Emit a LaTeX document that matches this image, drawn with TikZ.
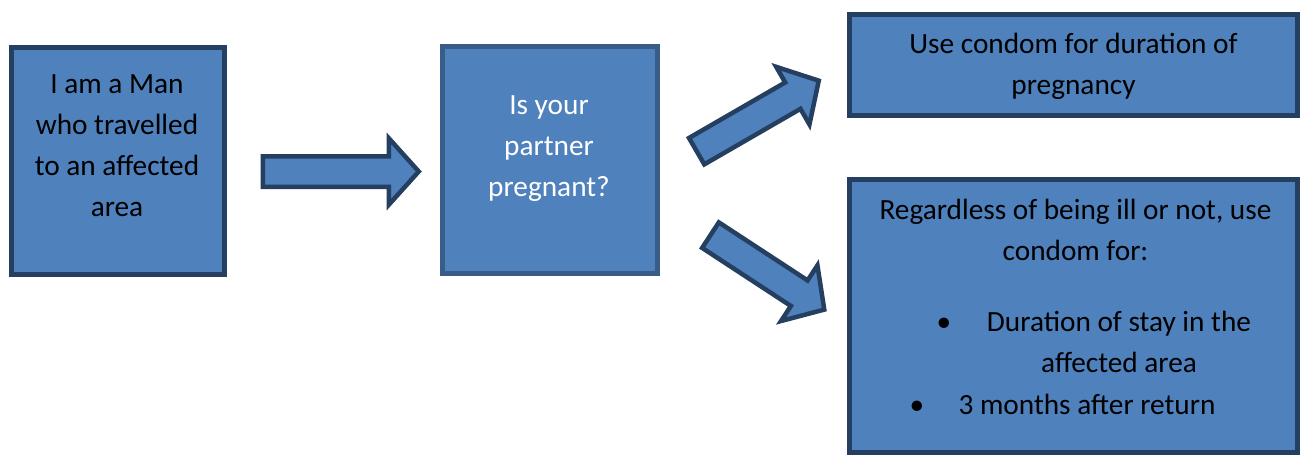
\documentclass[tikz,border=0pt]{standalone}
\usepackage{fontspec}
\setmainfont{Carlito}
\usetikzlibrary{shapes.arrows}
\definecolor{boxfill}{HTML}{4F81BD}
\definecolor{darkedge}{HTML}{243F60}
\definecolor{lightedge}{HTML}{385D8A}
\tikzset{
  box/.style={draw=darkedge, fill=boxfill, line width=5pt, rectangle, inner sep=0pt},
  lightbox/.style={box, draw=lightedge},
  txt/.style={inner sep=0pt, anchor=base, align=center, font=\fontsize{29.3}{41}\selectfont},
  blockarrow/.style={single arrow, draw=darkedge, fill=boxfill, line width=4.5pt,
    inner xsep=0pt, inner ysep=13pt, minimum width=62pt, single arrow head extend=18pt,
    single arrow tip angle=96, anchor=tail}
}
\begin{document}
\begin{tikzpicture}[x=1pt,y=-1pt]
\useasboundingbox (0,0) rectangle (1301,455);
% boxes
\node[box, minimum width=213pt, minimum height=227pt] (b1) at (118,161) {};
\node[lightbox, minimum width=215pt, minimum height=227pt] (b2) at (550,160) {};
\node[box, line width=4.5pt, minimum width=448pt, minimum height=101pt] (b3) at (1073.5,65) {};
\node[box, line width=4.5pt, minimum width=448pt, minimum height=273pt] (b4) at (1073.5,316) {};
% texts (anchor base = baseline of last line)
\node[txt] (t1) at (117,216) {I am a Man\\who travelled\\to an affected\\area};
\node[txt, text=white] (t2) at (549,196) {Is your\\partner\\pregnant?};
\node[txt] (t3) at (1073.5,94) {Use condom for duration of\\pregnancy};
\node[txt] (t4) at (1075.5,260) {Regardless of being ill or not, use\\condom for:};
\node[txt] (d1) at (944,331) {\textbullet};
\node[txt] (l1) at (1119,372) {Duration of stay in the\\affected area};
\node[txt] (d2) at (917,414) {\textbullet};
\node[txt] (l2) at (1087,414) {3 months after return};
% block arrows
\node[blockarrow, minimum height=156pt] (a1) at (260.5,171.5) {};
\node[blockarrow, minimum height=141pt, rotate=30] (a2) at (694.7,152.3) {};
\node[blockarrow, minimum height=136pt, rotate=-33.2] (a3) at (708.6,233.9) {};
\end{tikzpicture}
\end{document}
